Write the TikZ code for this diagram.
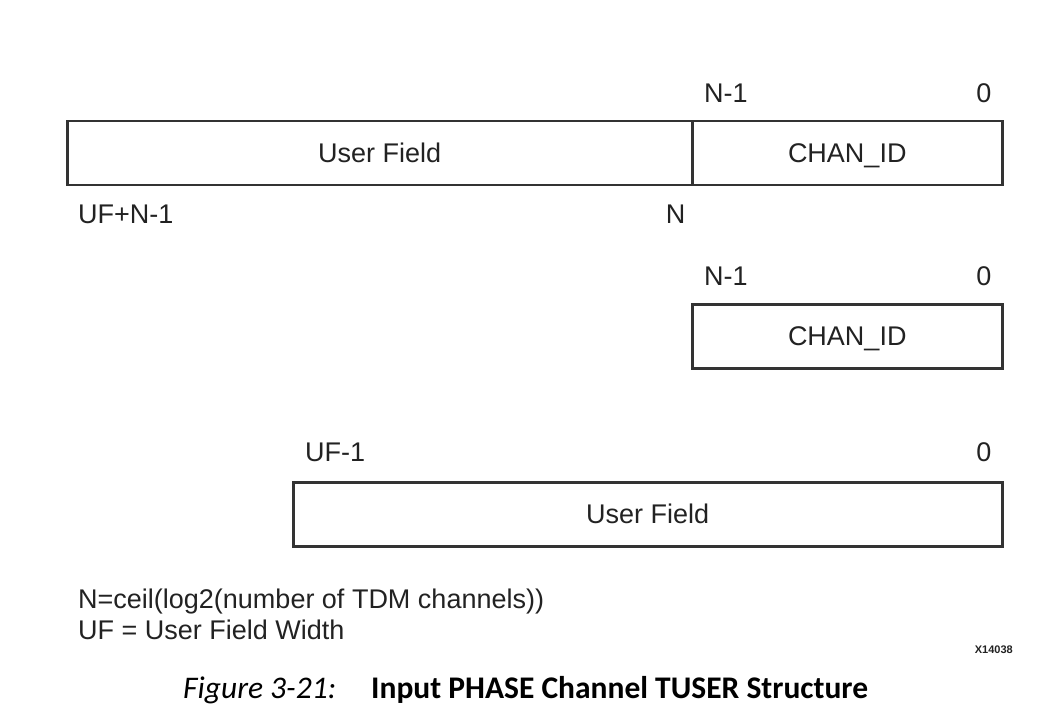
\documentclass[tikz,border=0pt]{standalone}
\usepackage{fontspec}
\setmainfont{Liberation Sans}
\newfontfamily\capfont{Carlito}
\usetikzlibrary{positioning}
\definecolor{xlink}{RGB}{34,34,34}
\definecolor{xline}{RGB}{51,51,51}
\tikzset{
  field/.style={draw=xline, line width=2.5pt, minimum height=64pt, inner sep=0pt, text height=19.3pt, text depth=0pt, font=\fontsize{27}{31}\selectfont, text=xlink},
  bitlbl/.style={inner sep=0pt, font=\fontsize{27}{31}\selectfont, text=xlink},
  note/.style={inner sep=0pt, align=left, font=\fontsize{27}{31}\selectfont, text=xlink},
}

\begin{document}
\begin{tikzpicture}[x=1pt, y=-1pt]
  \useasboundingbox (0,0) rectangle (1057,727);

  % combined TUSER word
  \node[field, minimum width=625pt, anchor=north west] (uf1) at (66,120) {User Field};
  \node[field, minimum width=310pt, right=-2.5pt of uf1] (chan1) {CHAN\_ID};
  \node[bitlbl, above right=17pt and 13pt of chan1.north west] {N-1};
  \node[bitlbl, above left=17pt and 12pt of chan1.north east] {0};
  \node[bitlbl, below right=18pt and 12pt of uf1.south west] {UF+N-1};
  \node[bitlbl, below left=18pt and 8pt of uf1.south east] {N};

  % channel id only
  \node[field, minimum width=310pt, anchor=north west] (chan2) at (691,303) {CHAN\_ID};
  \node[bitlbl, above right=17pt and 13pt of chan2.north west] {N-1};
  \node[bitlbl, above left=17pt and 12pt of chan2.north east] {0};

  % user field only
  \node[field, minimum width=709pt, anchor=north west] (uf2) at (292,481) {User Field};
  \node[bitlbl, above right=19pt and 13pt of uf2.north west] {UF-1};
  \node[bitlbl, above left=19pt and 12pt of uf2.north east] {0};

  % legend and caption
  \node[note, anchor=north west] (legend) at (78,589) {N=ceil(log2(number of TDM channels))\\UF = User Field Width};
  \node[inner sep=0pt, font=\fontsize{11}{13}\selectfont\bfseries, text=xlink, anchor=east] (fignum) at (1013,650) {X14038};
  \node[inner sep=0pt, font=\capfont\fontsize{31.5}{36}\selectfont, anchor=base west] (caption) at (183,698)
    {\textit{Figure 3-21:}\hspace{35pt}\textbf{Input PHASE Channel TUSER Structure}};
\end{tikzpicture}
\end{document}
